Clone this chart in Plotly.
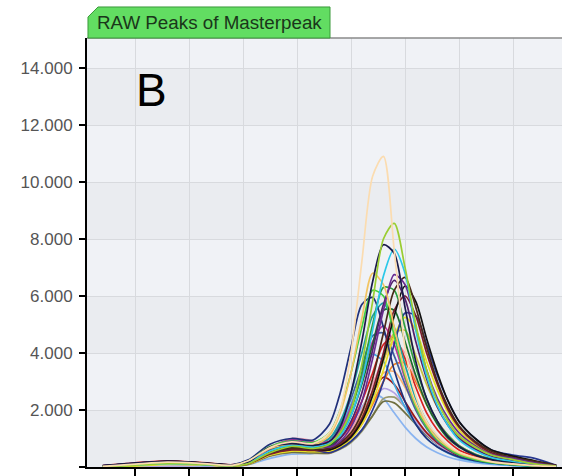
import plotly.graph_objects as go

# ---- data ----
X = [4, 10, 16, 22, 28, 31, 35, 39, 43, 46, 48, 50, 52, 54, 56, 58, 60, 62, 64, 66, 68, 70, 73, 76, 80, 84, 88]

peach      = [20,100,170,130,60,220,680,880,820, 1200,2000,4000,7200,10200,10900,7600,4200,2500,1600,1100,750,520,330,190,110,50,15]
yellowgreen= [10,60,130,100,40,120,500,720,650, 800,1200,2000,3600,5800,8000,8550,7000,5000,3400,2300,1600,1100,700,420,260,110,30]
navy       = [40,130,210,150,70,180,700,820,760, 900,1400,2600,4400,6500,7800,7500,5600,3700,2400,1600,1050,720,420,260,140,60,20]
cyan       = [20,70,120,90,50,150,560,760,700, 850,1100,1800,3000,4800,6700,7650,6800,4800,3200,2150,1450,950,570,330,190,80,20]
purple     = [30,90,150,110,50,130,620,900,780, 700,900,1400,2300,3800,5500,6750,6400,4900,3400,2400,1700,1200,750,450,300,150,40]
darkblue   = [50,140,190,140,80,250,800,1000,950, 1500,2600,4200,5700,5950,4900,3400,2300,1500,1000,700,500,350,220,140,80,40,10]
paleorange = [20,80,140,110,60,200,650,800,760, 1100,1900,3300,5200,6800,6400,4900,3300,2200,1500,1000,700,480,300,180,100,50,10]
maroon     = [30,100,160,120,50,110,450,600,580, 600,800,1100,1700,2700,4000,5500,6000,5300,4000,2900,2000,1400,850,500,300,180,50]
yellow     = [0,40,90,80,40,100,420,560,540, 550,700,1000,1500,2300,3400,4600,5250,4800,3700,2700,1900,1300,800,480,280,130,30]
brown      = [30,110,170,130,60,140,500,650,620, 650,850,1200,1900,3100,4700,6200,6650,5600,4200,3000,2100,1450,900,550,330,200,60]
green      = [20,90,150,110,50,160,580,780,720, 800,1200,2000,3300,5000,6300,6200,4900,3500,2400,1600,1100,750,450,280,150,70,20]
magenta    = [40,120,180,140,70,200,700,950,880, 900,1300,2100,3200,4400,4950,4300,3100,2100,1400,950,650,450,280,200,380,80,10]
red        = [50,150,220,160,80,180,600,800,740, 700,1000,1500,2300,3300,4300,4550,3800,2800,1900,1300,900,600,380,230,130,60,15]
orange     = [30,100,160,120,60,150,500,680,640, 500,700,1000,1500,2200,3000,3600,3650,3000,2200,1600,1100,750,450,280,160,80,20]
darkolive  = [20,70,120,90,40,100,400,520,500, 500,650,900,1300,1800,2300,2250,1900,1500,1100,800,580,400,250,150,80,30,10]
grayolive  = [0,50,100,80,40,90,380,500,480, 480,620,860,1250,1800,2400,2450,2100,1650,1200,880,620,430,270,160,90,35,10]
darkred    = [40,120,190,140,70,160,520,700,660, 550,800,1200,1800,2600,3150,2900,2300,1700,1200,850,600,400,250,150,80,30,10]
lightblue  = [0,0,0,0,20,80,300,450,480, 700,1000,1500,2100,2550,2400,1900,1400,1000,700,500,350,250,150,90,50,20,5]
pink       = [20,80,140,100,50,170,600,1000,900, 600,850,1300,2000,2900,3800,4350,4000,3100,2300,1600,1100,750,450,270,150,70,20]
teal       = [30,110,170,130,60,190,680,900,850, 1000,1600,2600,4000,5300,5750,4900,3600,2400,1600,1050,700,470,290,170,90,40,10]
skyblue    = [20,90,150,110,50,160,620,850,800, 900,1400,2200,3200,3950,3700,2900,2100,1500,1000,700,480,330,200,120,60,25,5]
black      = [40,130,200,150,70,150,520,680,640, 600,750,1050,1600,2500,3800,5300,6350,5800,4500,3300,2300,1600,1000,600,380,220,60]
lavender   = [0,0,30,50,40,120,450,700,650, 600,850,1200,1700,2300,2750,2600,2100,1600,1150,800,550,380,230,140,70,30,8]
lime       = [30,100,170,130,60,210,720,920,860, 1200,2000,3300,4900,6200,6000,4600,3200,2100,1400,950,650,430,260,150,80,35,10]
navylate   = [40,120,180,140,70,140,480,620,600, 500,650,900,1300,2000,3000,4300,5400,5300,4300,3200,2300,1600,1000,600,420,300,60]
darkpurple = [30,110,180,130,60,170,640,820,780, 700,1000,1600,2600,4100,5700,6550,5900,4400,3100,2100,1450,1000,620,370,220,100,25]
darkgreen  = [20,80,140,100,50,150,550,720,680, 750,1100,1800,2900,4300,5500,5500,4400,3200,2200,1500,1000,700,420,260,140,60,15]
steelblue  = [30,100,160,120,60,180,650,850,800, 1000,1500,2400,3500,4600,4700,3900,2900,2000,1350,900,620,420,260,150,80,35,10]
lightorange= [20,70,120,90,40,120,450,620,600, 550,800,1200,1800,2600,3300,3350,2800,2100,1500,1050,720,490,300,180,100,45,10]
oliveyellow= [10,60,110,80,40,110,420,580,560, 560,750,1100,1700,2600,3700,4700,4800,3900,2900,2100,1500,1050,650,400,240,120,30]

series = [
    (lightblue, "#8ab4f0"), (grayolive, "#9a9a70"), (darkolive, "#6e6e40"),
    (lavender, "#b4a4e4"), (darkred, "#a01818"), (lightorange, "#f8b070"),
    (orange, "#f08020"), (skyblue, "#40a8e0"), (pink, "#f0a0b0"),
    (red, "#d82020"), (steelblue, "#4060a0"), (magenta, "#c030a0"),
    (oliveyellow, "#c8c040"), (yellow, "#e8e020"), (darkgreen, "#1a6a2a"),
    (teal, "#20a0a0"), (navylate, "#283890"), (darkblue, "#20307a"),
    (maroon, "#7b1c2c"), (lime, "#40d040"), (green, "#2e9e3e"),
    (black, "#101010"), (darkpurple, "#50206a"), (brown, "#4a2a1a"),
    (purple, "#6a2c91"), (paleorange, "#f2c462"), (cyan, "#2cc8e8"),
    (navy, "#1a1a4a"), (yellowgreen, "#9acd32"), (peach, "#fbdcb0"),
]

y_ticks = [0, 2000, 4000, 6000, 8000, 10000, 12000, 14000]
y_labels = ["0", "2.000", "4.000", "6.000", "8.000", "10.000", "12.000", "14.000"]
x_ticks = [10, 20, 30, 40, 50, 60, 70, 80]

fig = go.Figure()
for ys, col in series:
    fig.add_trace(go.Scatter(x=X, y=ys, mode="lines",
                             line=dict(color=col, width=1.7, shape="spline", smoothing=0.8),
                             hoverinfo="skip", showlegend=False))

# alternating background bands
for lo, hi in zip(y_ticks[0::2], y_ticks[1::2]):
    fig.add_shape(type="rect", xref="paper", yref="y", x0=0, x1=1, y0=lo, y1=hi,
                  fillcolor="#eaecf0", line_width=0, layer="below")

# top border of plot
fig.add_shape(type="line", xref="paper", yref="paper", x0=0, x1=1, y0=1, y1=1,
              line=dict(color="#8a8a8a", width=1.5))

# green title tab
fig.add_shape(type="path", xref="paper", yref="paper",
              path="M 0.0021,1.0 L 0.0021,1.049 L 0.0232,1.0723 L 0.5116,1.0723 L 0.5116,1.0 Z",
              fillcolor="#62dd62", line=dict(color="#3a9a3a", width=1))
fig.add_annotation(text="RAW Peaks of Masterpeak", xref="paper", yref="paper",
                   x=0.0168, y=1.037, xanchor="left", yanchor="middle", showarrow=False,
                   font=dict(family="Arial, Liberation Sans", size=18.8, color="#1a361a"))
fig.add_annotation(text="B", xref="paper", yref="paper", x=0.1358, y=0.879,
                   xanchor="center", yanchor="middle", showarrow=False,
                   font=dict(family="Arial, Liberation Sans", size=46, color="#000000"))

fig.update_layout(
    width=562, height=476,
    margin=dict(l=87, r=0, t=38, b=9),
    paper_bgcolor="#ffffff", plot_bgcolor="#f0f2f6",
    xaxis=dict(range=[1.11, 89.07], tickvals=x_ticks, showticklabels=False,
               ticks="outside", ticklen=9, tickcolor="#000", tickwidth=1.5,
               showline=True, linecolor="#000", linewidth=2,
               showgrid=True, gridcolor="#d8dade", gridwidth=1, zeroline=False),
    yaxis=dict(range=[0, 15053], tickvals=y_ticks, ticktext=y_labels,
               ticks="outside", ticklen=6, tickcolor="#000", tickwidth=1.5,
               ticklabelstandoff=3,
               tickfont=dict(family="Arial, Liberation Sans", size=17, color="#555555"),
               showline=True, linecolor="#000", linewidth=2,
               showgrid=True, gridcolor="#d8dade", gridwidth=1, zeroline=False),
)

fig.write_html("out.html")
